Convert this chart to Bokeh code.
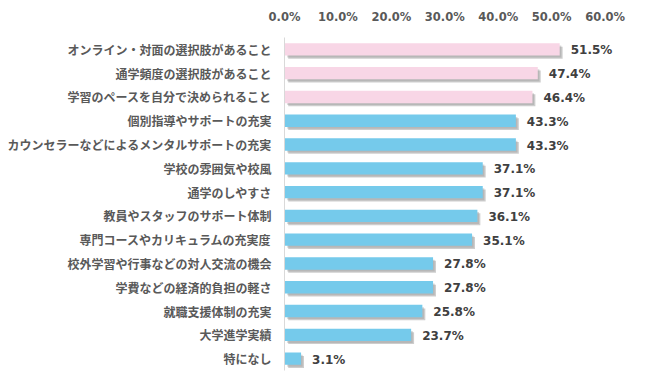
from bokeh.plotting import figure
from bokeh.models import ColumnDataSource, FixedTicker, PrintfTickFormatter, FactorRange
from bokeh.transform import dodge
from bokeh.core.properties import value
from bokeh.embed import file_html
from bokeh.resources import INLINE

categories = [
    "オンライン・対面の選択肢があること",
    "通学頻度の選択肢があること",
    "学習のペースを自分で決められること",
    "個別指導やサポートの充実",
    "カウンセラーなどによるメンタルサポートの充実",
    "学校の雰囲気や校風",
    "通学のしやすさ",
    "教員やスタッフのサポート体制",
    "専門コースやカリキュラムの充実度",
    "校外学習や行事などの対人交流の機会",
    "学費などの経済的負担の軽さ",
    "就職支援体制の充実",
    "大学進学実績",
    "特になし",
]
values = [51.5, 47.4, 46.4, 43.3, 43.3, 37.1, 37.1, 36.1, 35.1, 27.8, 27.8, 25.8, 23.7, 3.1]
highlight = [True, True, True, False, False, False, False, False, False, False, False, False, False, False]
x_ticks = [0, 10, 20, 30, 40, 50, 60]

PINK = "#F8D6E6"
BLUE = "#75CAEB"

colors = [PINK if h else BLUE for h in highlight]
labels = [f"{v:.1f}%" for v in values]

src = ColumnDataSource(dict(cat=categories, val=values, color=colors, label=labels))

p = figure(
    width=634, height=374,
    y_range=FactorRange(*categories[::-1], range_padding=0),
    x_range=(0, 65.5),
    x_axis_location="above",
    output_backend="svg", toolbar_location=None,
    min_border_left=284, min_border_right=0, min_border_top=37, min_border_bottom=4,
)
p.y_range.factor_padding = 0

# shadow
p.hbar(y=dodge("cat", -0.14, range=p.y_range), left=0.7, right=dodge("val", 0.55),
       height=0.5, source=src, fill_color="#707070", fill_alpha=0.35, line_color=None)
p.hbar(y=dodge("cat", -0.09, range=p.y_range), left=0.5, right=dodge("val", 0.3),
       height=0.5, source=src, fill_color="#909090", fill_alpha=0.35, line_color=None)
# bars
p.hbar(y="cat", left=0, right="val", height=0.52, source=src,
       fill_color="color", line_color=None)

p.text(x="val", y="cat", text="label", source=src, x_offset=11, y_offset=1,
       text_align="left", text_baseline="middle",
       text_font=value("DejaVu Sans"), text_font_style="bold",
       text_font_size="12px", text_color="#404040")

p.xaxis.ticker = FixedTicker(ticks=x_ticks)
p.xaxis.formatter = PrintfTickFormatter(format="%.1f%%")
p.xaxis.axis_line_color = None
p.xaxis.major_tick_line_color = None
p.xaxis.minor_tick_line_color = None
p.xaxis.major_label_standoff = 8
p.xaxis.major_label_text_font = "DejaVu Sans"
p.xaxis.major_label_text_font_style = "bold"
p.xaxis.major_label_text_font_size = "11.5px"
p.xaxis.major_label_text_color = "#595959"

p.yaxis.axis_line_color = "#D9D9D9"
p.yaxis.axis_line_width = 1
p.yaxis.major_tick_line_color = None
p.yaxis.minor_tick_line_color = None
p.yaxis.major_label_standoff = 7
p.yaxis.major_label_text_font = "Noto Sans CJK JP"
p.yaxis.major_label_text_font_style = "bold"
p.yaxis.major_label_text_font_size = "12px"
p.yaxis.major_label_text_color = "#595959"

p.xgrid.visible = False
p.ygrid.visible = False
p.outline_line_color = None
p.background_fill_color = "white"
p.border_fill_color = "white"

open("out.html", "w").write(file_html(p, INLINE))
